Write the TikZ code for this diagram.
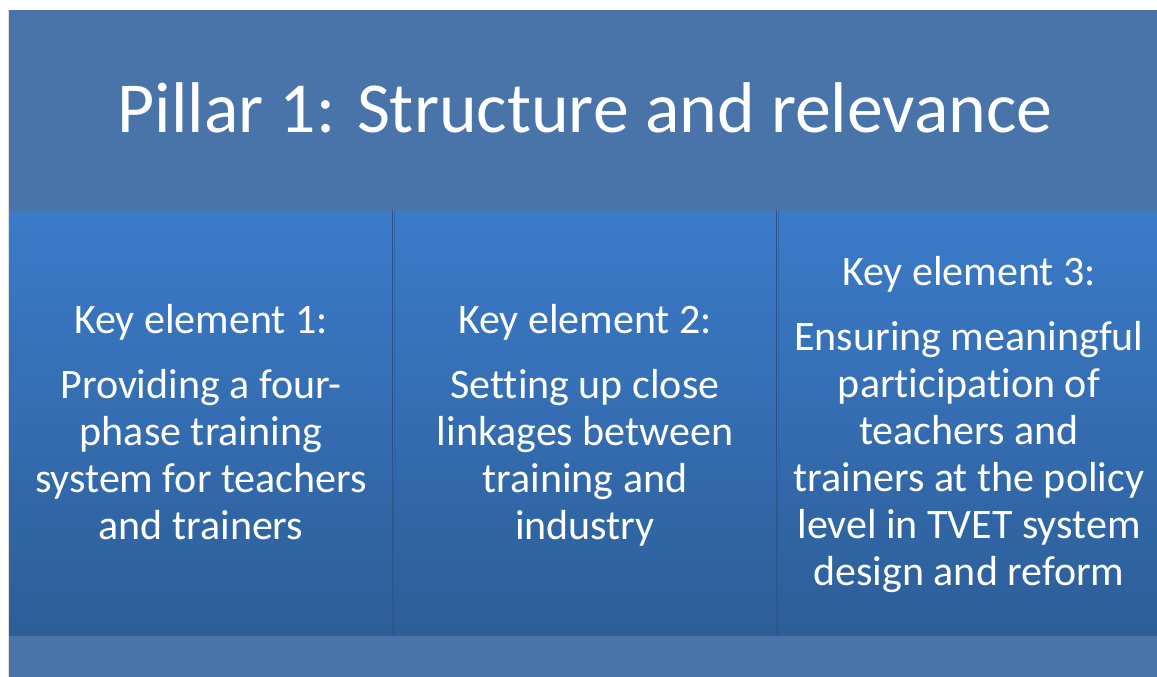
\documentclass[tikz,border=0pt]{standalone}
\usepackage{fontspec}
\setmainfont{Carlito}[Ligatures=NoCommon]
\definecolor{banner}{HTML}{4874A9}
\definecolor{coltop}{HTML}{3B7BC9}
\definecolor{colbot}{HTML}{2D5E98}
\definecolor{divline}{HTML}{2A5489}
\newcommand{\colblock}[1]{\begin{tabular}[t]{@{}c@{}}#1\end{tabular}}
\begin{document}
\begin{tikzpicture}[x=1pt,y=-1pt,
  colbox/.style={top color=coltop,bottom color=colbot,draw=none},
  keytext/.style={text=white,anchor=base,inner sep=0pt,font=\fontsize{42}{47}\selectfont},
  bodytext/.style={text=white,anchor=base,inner sep=0pt,font=\fontsize{42}{47}\selectfont},
  titletext/.style={text=white,anchor=base,inner sep=0pt,font=\fontsize{71.8}{80}\selectfont}]
\fill[white] (0,0) rectangle (1157,677);
\useasboundingbox (0,0) rectangle (1157,677);
% soft shadow at left
\fill[black!12] (7.5,10) rectangle (9,677);
% banner and bottom strip
\fill[banner] (9,10) rectangle (1157,211);
\fill[banner] (9,635) rectangle (1157,677);
% columns
\shade[colbox] (9,211) rectangle (392,635);
\shade[colbox] (392,211) rectangle (776,635);
\shade[colbox] (776,211) rectangle (1157,635);
\draw[divline,line width=1.6pt] (392.5,211) -- (392.5,635);
\draw[divline,line width=1.6pt] (776.5,211) -- (776.5,635);
\draw[divline!60!colbot,line width=0.8pt,opacity=0.5] (394.5,211) -- (394.5,635);
\draw[divline!60!colbot,line width=0.8pt,opacity=0.5] (778.5,211) -- (778.5,635);
% title
\node[titletext] (title) at (585,132) {Pillar 1: Structure and relevance};
% column 1
\node[keytext] (k1) at (201,333) {Key element 1:};
\node[bodytext] (b1) at (201,398) {\colblock{Providing a four-\\phase training\\system for teachers\\and trainers}};
% column 2
\node[keytext] (k2) at (585,333) {Key element 2:};
\node[bodytext] (b2) at (585,398) {\colblock{Setting up close\\linkages between\\training and\\industry}};
% column 3
\node[keytext] (k3) at (969,285) {Key element 3:};
\node[bodytext] (b3) at (969,350) {\colblock{Ensuring meaningful\\participation of\\teachers and\\trainers at the policy\\level in TVET system\\design and reform}};
\end{tikzpicture}
\end{document}
